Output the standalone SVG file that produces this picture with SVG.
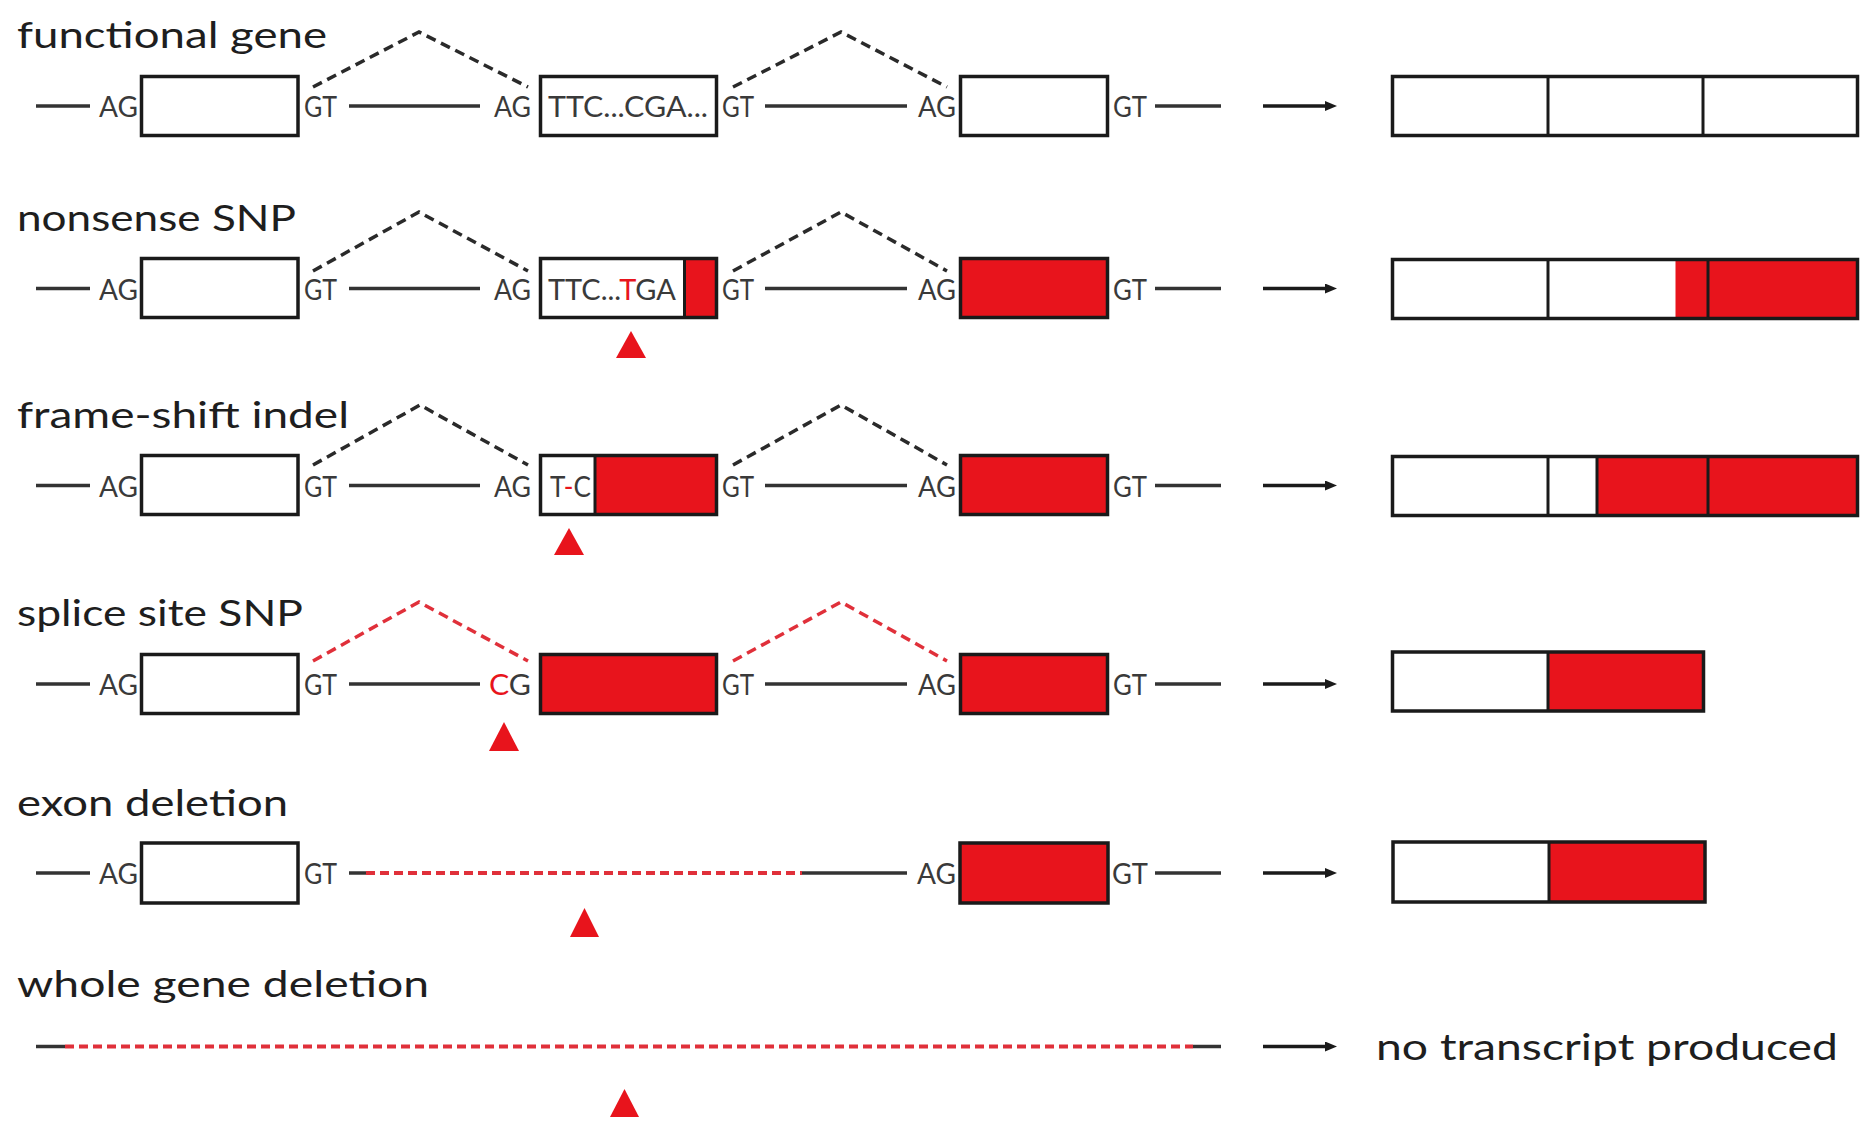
<svg xmlns="http://www.w3.org/2000/svg" width="1863" height="1121" viewBox="0 0 1863 1121">
<defs>
<style>
.title{font-family:Lato,"Open Sans","Liberation Sans",sans-serif;font-size:37px;fill:#1e1e1e}
.lab{font-family:Lato,"Open Sans","Liberation Sans",sans-serif;font-size:28px;fill:#3a3a3a}
.red{fill:#e8141c}
.wh{fill:#fff}
.ol{fill:none;stroke:#1a1a1a;stroke-width:3.5}
.dv{stroke:#1a1a1a;stroke-width:3}
.ln{stroke:#333;stroke-width:3.5;fill:none}
.sp{fill:none;stroke:#2a2a2a;stroke-width:3.5;stroke-dasharray:10 6}
.spr{fill:none;stroke:#e0303a;stroke-width:3.5;stroke-dasharray:10 6}
.del{fill:none;stroke:#e0303a;stroke-width:4;stroke-dasharray:9 5}
.arr{stroke:#1a1a1a;stroke-width:3.5;marker-end:url(#ah)}
.mut{fill:#e8141c}
</style>
<marker id="ah" viewBox="0 0 12 10" refX="5" refY="5" markerWidth="12" markerHeight="10" markerUnits="userSpaceOnUse" orient="auto"><path d="M0,0 L12,5 L0,10 z" fill="#1a1a1a"/></marker>
</defs>
<rect width="1863" height="1121" fill="#fff"/>

<g id="connectors">
  <!-- row 1 -->
  <line class="ln" x1="36" y1="106" x2="90" y2="106"/>
  <line class="ln" x1="349" y1="106" x2="480" y2="106"/>
  <line class="ln" x1="765" y1="106" x2="907" y2="106"/>
  <line class="ln" x1="1155" y1="106" x2="1221" y2="106"/>
  <polyline class="sp" points="313,87 419,32 528,87"/>
  <polyline class="sp" points="733,87 841,32 947,87"/>
  <line class="arr" x1="1263" y1="106" x2="1330" y2="106"/>
  <!-- row 2 -->
  <line class="ln" x1="36" y1="288.5" x2="90" y2="288.5"/>
  <line class="ln" x1="349" y1="288.5" x2="480" y2="288.5"/>
  <line class="ln" x1="765" y1="288.5" x2="907" y2="288.5"/>
  <line class="ln" x1="1155" y1="288.5" x2="1221" y2="288.5"/>
  <polyline class="sp" points="313,271 419,212 528,271"/>
  <polyline class="sp" points="733,271 841,212 947,271"/>
  <line class="arr" x1="1263" y1="288.5" x2="1330" y2="288.5"/>
  <!-- row 3 -->
  <line class="ln" x1="36" y1="485.5" x2="90" y2="485.5"/>
  <line class="ln" x1="349" y1="485.5" x2="480" y2="485.5"/>
  <line class="ln" x1="765" y1="485.5" x2="907" y2="485.5"/>
  <line class="ln" x1="1155" y1="485.5" x2="1221" y2="485.5"/>
  <polyline class="sp" points="313,465 420,405 528,465"/>
  <polyline class="sp" points="733,465 841,405 947,465"/>
  <line class="arr" x1="1263" y1="485.5" x2="1330" y2="485.5"/>
  <!-- row 4 -->
  <line class="ln" x1="36" y1="684" x2="90" y2="684"/>
  <line class="ln" x1="349" y1="684" x2="480" y2="684"/>
  <line class="ln" x1="765" y1="684" x2="907" y2="684"/>
  <line class="ln" x1="1155" y1="684" x2="1221" y2="684"/>
  <polyline class="spr" points="313,661 419,602 528,661"/>
  <polyline class="spr" points="733,661 841,602 947,661"/>
  <line class="arr" x1="1263" y1="684" x2="1330" y2="684"/>
  <!-- row 5 -->
  <line class="ln" x1="36" y1="873" x2="90" y2="873"/>
  <line class="ln" x1="349" y1="873" x2="366" y2="873"/>
  <line class="del" x1="366" y1="873" x2="802" y2="873"/>
  <line class="ln" x1="802" y1="873" x2="907" y2="873"/>
  <line class="ln" x1="1155" y1="873" x2="1221" y2="873"/>
  <line class="arr" x1="1263" y1="873" x2="1330" y2="873"/>
  <!-- row 6 -->
  <line class="ln" x1="36" y1="1046.5" x2="65" y2="1046.5"/>
  <line class="del" x1="65" y1="1046.5" x2="1193" y2="1046.5"/>
  <line class="ln" x1="1193" y1="1046.5" x2="1221" y2="1046.5"/>
  <line class="arr" x1="1263" y1="1046.5" x2="1330" y2="1046.5"/>
</g>

<!-- Row 1: functional gene -->
<g id="row1">
  <g id="title1"><text class="title" x="17" y="48" textLength="310" lengthAdjust="spacingAndGlyphs">functional gene</text></g>
  <g id="r1-ag1"><text class="lab" x="99" y="117" textLength="39" lengthAdjust="spacingAndGlyphs">AG</text></g>
  <g id="r1-exon1"><rect class="wh" x="141.5" y="76.5" width="156.5" height="59"/><rect class="ol" x="141.5" y="76.5" width="156.5" height="59"/></g>
  <g id="r1-gt1"><text class="lab" x="304" y="117" textLength="33" lengthAdjust="spacingAndGlyphs">GT</text></g>
  <g id="r1-ag2"><text class="lab" x="494" y="117" textLength="37" lengthAdjust="spacingAndGlyphs">AG</text></g>
  <g id="r1-exon2"><rect class="wh" x="540.5" y="76.5" width="176" height="59"/><rect class="ol" x="540.5" y="76.5" width="176" height="59"/>
    <text class="lab" x="548" y="117" textLength="160" lengthAdjust="spacingAndGlyphs">TTC...CGA...</text></g>
  <g id="r1-gt2"><text class="lab" x="722" y="117" textLength="32" lengthAdjust="spacingAndGlyphs">GT</text></g>
  <g id="r1-ag3"><text class="lab" x="918" y="117" textLength="38" lengthAdjust="spacingAndGlyphs">AG</text></g>
  <g id="r1-exon3"><rect class="wh" x="960.5" y="76.5" width="147" height="59"/><rect class="ol" x="960.5" y="76.5" width="147" height="59"/></g>
  <g id="r1-gt3"><text class="lab" x="1113" y="117" textLength="34" lengthAdjust="spacingAndGlyphs">GT</text></g>
  <g id="r1-transcript"><rect class="wh" x="1392.5" y="76.5" width="465" height="59"/>
    <line class="dv" x1="1548" y1="76.5" x2="1548" y2="135.5"/><line class="dv" x1="1703" y1="76.5" x2="1703" y2="135.5"/>
    <rect class="ol" x="1392.5" y="76.5" width="465" height="59"/></g>
</g>

<!-- Row 2: nonsense SNP -->
<g id="row2">
  <g id="title2"><text class="title" x="17" y="231" textLength="279" lengthAdjust="spacingAndGlyphs">nonsense SNP</text></g>
  <g id="r2-ag1"><text class="lab" x="99" y="299.5" textLength="39" lengthAdjust="spacingAndGlyphs">AG</text></g>
  <g id="r2-exon1"><rect class="wh" x="141.5" y="258.5" width="156.5" height="59"/><rect class="ol" x="141.5" y="258.5" width="156.5" height="59"/></g>
  <g id="r2-gt1"><text class="lab" x="304" y="299.5" textLength="33" lengthAdjust="spacingAndGlyphs">GT</text></g>
  <g id="r2-ag2"><text class="lab" x="494" y="299.5" textLength="37" lengthAdjust="spacingAndGlyphs">AG</text></g>
  <g id="r2-exon2"><rect class="wh" x="540.5" y="258.5" width="176" height="59"/>
    <rect class="red" x="684.5" y="258.5" width="32" height="59"/>
    <line class="dv" x1="684.5" y1="258.5" x2="684.5" y2="317.5"/>
    <rect class="ol" x="540.5" y="258.5" width="176" height="59"/>
    <text class="lab" x="548" y="299.5" textLength="128" lengthAdjust="spacingAndGlyphs">TTC...<tspan fill="#e8141c">T</tspan>GA</text></g>
  <g id="r2-gt2"><text class="lab" x="722" y="299.5" textLength="32" lengthAdjust="spacingAndGlyphs">GT</text></g>
  <g id="r2-ag3"><text class="lab" x="918" y="299.5" textLength="38" lengthAdjust="spacingAndGlyphs">AG</text></g>
  <g id="r2-exon3"><rect class="red" x="960.5" y="258.5" width="147" height="59"/><rect class="ol" x="960.5" y="258.5" width="147" height="59"/></g>
  <g id="r2-gt3"><text class="lab" x="1113" y="299.5" textLength="34" lengthAdjust="spacingAndGlyphs">GT</text></g>
  <g id="r2-mutation"><polygon class="mut" points="631,331 646,358 616,358"/></g>
  <g id="r2-transcript"><rect class="wh" x="1392.5" y="259.5" width="465" height="59"/>
    <rect class="red" x="1675.5" y="259.5" width="182" height="59"/>
    <line class="dv" x1="1548" y1="259.5" x2="1548" y2="318.5"/><line class="dv" x1="1708" y1="259.5" x2="1708" y2="318.5"/>
    <rect class="ol" x="1392.5" y="259.5" width="465" height="59"/></g>
</g>

<!-- Row 3: frame-shift indel -->
<g id="row3">
  <g id="title3"><text class="title" x="17" y="428" textLength="332" lengthAdjust="spacingAndGlyphs">frame-shift indel</text></g>
  <g id="r3-ag1"><text class="lab" x="99" y="496.5" textLength="39" lengthAdjust="spacingAndGlyphs">AG</text></g>
  <g id="r3-exon1"><rect class="wh" x="141.5" y="455.5" width="156.5" height="59"/><rect class="ol" x="141.5" y="455.5" width="156.5" height="59"/></g>
  <g id="r3-gt1"><text class="lab" x="304" y="496.5" textLength="33" lengthAdjust="spacingAndGlyphs">GT</text></g>
  <g id="r3-ag2"><text class="lab" x="494" y="496.5" textLength="37" lengthAdjust="spacingAndGlyphs">AG</text></g>
  <g id="r3-exon2"><rect class="wh" x="540.5" y="455.5" width="176" height="59"/>
    <rect class="red" x="595" y="455.5" width="121.5" height="59"/>
    <line class="dv" x1="595" y1="455.5" x2="595" y2="514.5"/>
    <rect class="ol" x="540.5" y="455.5" width="176" height="59"/>
    <text class="lab" x="550" y="496.5" textLength="41" lengthAdjust="spacingAndGlyphs">T<tspan fill="#e8141c">-</tspan>C</text></g>
  <g id="r3-gt2"><text class="lab" x="722" y="496.5" textLength="32" lengthAdjust="spacingAndGlyphs">GT</text></g>
  <g id="r3-ag3"><text class="lab" x="918" y="496.5" textLength="38" lengthAdjust="spacingAndGlyphs">AG</text></g>
  <g id="r3-exon3"><rect class="red" x="960.5" y="455.5" width="147" height="59"/><rect class="ol" x="960.5" y="455.5" width="147" height="59"/></g>
  <g id="r3-gt3"><text class="lab" x="1113" y="496.5" textLength="34" lengthAdjust="spacingAndGlyphs">GT</text></g>
  <g id="r3-mutation"><polygon class="mut" points="569,528 584,555 554,555"/></g>
  <g id="r3-transcript"><rect class="wh" x="1392.5" y="456.5" width="465" height="59"/>
    <rect class="red" x="1597" y="456.5" width="260.5" height="59"/>
    <line class="dv" x1="1548" y1="456.5" x2="1548" y2="515.5"/><line class="dv" x1="1597" y1="456.5" x2="1597" y2="515.5"/><line class="dv" x1="1708" y1="456.5" x2="1708" y2="515.5"/>
    <rect class="ol" x="1392.5" y="456.5" width="465" height="59"/></g>
</g>

<!-- Row 4: splice site SNP -->
<g id="row4">
  <g id="title4"><text class="title" x="17" y="626" textLength="286" lengthAdjust="spacingAndGlyphs">splice site SNP</text></g>
  <g id="r4-ag1"><text class="lab" x="99" y="695" textLength="39" lengthAdjust="spacingAndGlyphs">AG</text></g>
  <g id="r4-exon1"><rect class="wh" x="141.5" y="654.5" width="156.5" height="59"/><rect class="ol" x="141.5" y="654.5" width="156.5" height="59"/></g>
  <g id="r4-gt1"><text class="lab" x="304" y="695" textLength="33" lengthAdjust="spacingAndGlyphs">GT</text></g>
  <g id="r4-cg"><text class="lab" x="489" y="695" textLength="42" lengthAdjust="spacingAndGlyphs"><tspan fill="#e8141c">C</tspan>G</text></g>
  <g id="r4-exon2"><rect class="red" x="540.5" y="654.5" width="176" height="59"/><rect class="ol" x="540.5" y="654.5" width="176" height="59"/></g>
  <g id="r4-gt2"><text class="lab" x="722" y="695" textLength="32" lengthAdjust="spacingAndGlyphs">GT</text></g>
  <g id="r4-ag3"><text class="lab" x="918" y="695" textLength="38" lengthAdjust="spacingAndGlyphs">AG</text></g>
  <g id="r4-exon3"><rect class="red" x="960.5" y="654.5" width="147" height="59"/><rect class="ol" x="960.5" y="654.5" width="147" height="59"/></g>
  <g id="r4-gt3"><text class="lab" x="1113" y="695" textLength="34" lengthAdjust="spacingAndGlyphs">GT</text></g>
  <g id="r4-mutation"><polygon class="mut" points="504,722 519,751 489,751"/></g>
  <g id="r4-transcript"><rect class="wh" x="1392.5" y="652" width="311" height="59"/>
    <rect class="red" x="1548" y="652" width="155.5" height="59"/>
    <line class="dv" x1="1548" y1="652" x2="1548" y2="711"/>
    <rect class="ol" x="1392.5" y="652" width="311" height="59"/></g>
</g>

<!-- Row 5: exon deletion -->
<g id="row5">
  <g id="title5"><text class="title" x="17" y="816" textLength="271" lengthAdjust="spacingAndGlyphs">exon deletion</text></g>
  <g id="r5-ag1"><text class="lab" x="99" y="884" textLength="39" lengthAdjust="spacingAndGlyphs">AG</text></g>
  <g id="r5-exon1"><rect class="wh" x="141.5" y="843" width="156.5" height="60"/><rect class="ol" x="141.5" y="843" width="156.5" height="60"/></g>
  <g id="r5-gt1"><text class="lab" x="304" y="884" textLength="33" lengthAdjust="spacingAndGlyphs">GT</text></g>
  <g id="r5-ag3"><text class="lab" x="917" y="884" textLength="39" lengthAdjust="spacingAndGlyphs">AG</text></g>
  <g id="r5-exon3"><rect class="red" x="960" y="843" width="148" height="60"/><rect class="ol" x="960" y="843" width="148" height="60"/></g>
  <g id="r5-gt3"><text class="lab" x="1112" y="884" textLength="36" lengthAdjust="spacingAndGlyphs">GT</text></g>
  <g id="r5-mutation"><polygon class="mut" points="584.5,908 599,937 570,937"/></g>
  <g id="r5-transcript"><rect class="wh" x="1393" y="842" width="312" height="60"/>
    <rect class="red" x="1549" y="842" width="156" height="60"/>
    <line class="dv" x1="1549" y1="842" x2="1549" y2="902"/>
    <rect class="ol" x="1393" y="842" width="312" height="60"/></g>
</g>

<!-- Row 6: whole gene deletion -->
<g id="row6">
  <g id="title6"><text class="title" x="17" y="997" textLength="412" lengthAdjust="spacingAndGlyphs">whole gene deletion</text></g>
  <g id="r6-mutation"><polygon class="mut" points="624.5,1089 639,1117 610,1117"/></g>
  <g id="r6-result"><text class="title" x="1376" y="1060" textLength="462" lengthAdjust="spacingAndGlyphs">no transcript produced</text></g>
</g>
</svg>
